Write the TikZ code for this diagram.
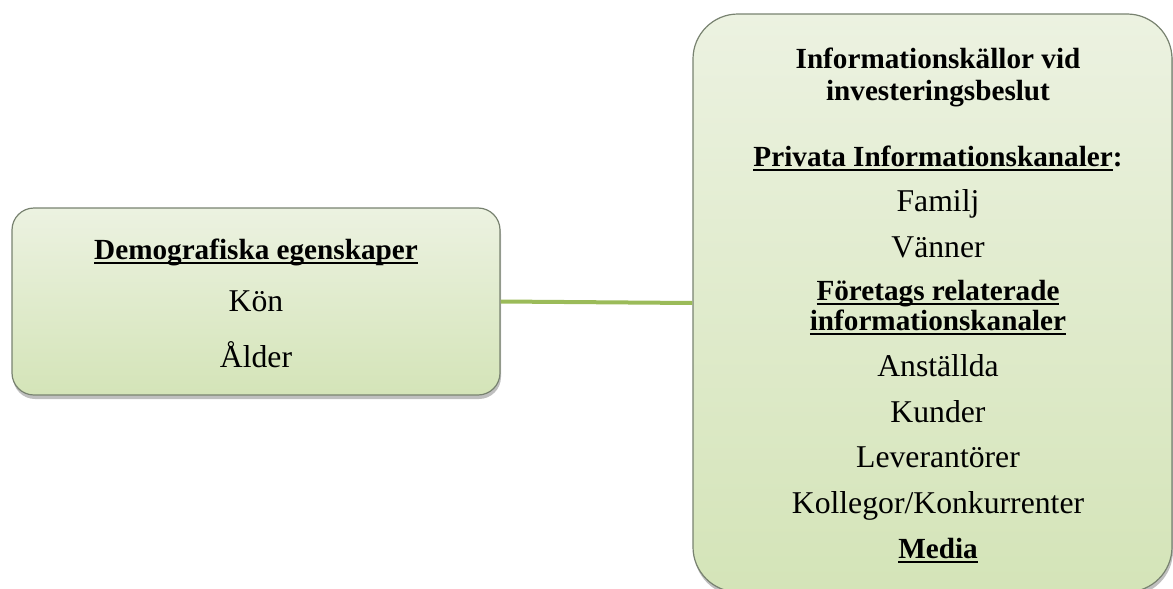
\documentclass[tikz,border=0pt]{standalone}
\usepackage{fontspec}
\setmainfont{Liberation Serif}
\newcommand{\ulin}[1]{\setbox0\hbox{#1}\rlap{\rule[-5pt]{\wd0}{1.8pt}}\box0}
\usetikzlibrary{shadows}
\definecolor{linegreen}{RGB}{155,187,89}
\definecolor{boxtop}{RGB}{236,242,225}
\definecolor{boxbot}{RGB}{212,228,184}
\definecolor{boxline}{RGB}{120,130,112}

\begin{document}
\begin{tikzpicture}[x=1pt, y=-1pt, font=\fontsize{31.7}{38}\selectfont]
    \tikzstyle{box}=[draw=boxline, line width=1.2pt, rectangle, top color=boxtop, bottom color=boxbot, drop shadow={shadow xshift=1pt, shadow yshift=-4pt, opacity=0.5}, inner sep=0pt]
    \tikzstyle{entry}=[anchor=base, inner sep=0pt]
    \tikzstyle{head}=[entry, font=\fontsize{29.2}{35}\selectfont\bfseries]

    \useasboundingbox (0,0) rectangle (1173,589);

    \node[box, rounded corners=22pt, minimum width=488pt, minimum height=187pt] (demo) at (256,301.5) {};
    \node[box, rounded corners=45pt, minimum width=479pt, minimum height=578pt] (info) at (932.5,303) {};

    \draw[linegreen, line width=4pt] (demo.east) -- (info.west);

    % left box
    \node[head] (demohead) at (256,259) {\ulin{Demografiska egenskaper}};
    \node[entry] (kon) at (256,311) {Kön};
    \node[entry] (alder) at (256,367) {Ålder};

    % right box
    \node[head] (title1) at (938,68) {Informationskällor vid};
    \node[head] (title2) at (938,100) {investeringsbeslut};
    \node[head] (priv) at (938,166) {\ulin{Privata Informationskanaler}:};
    \node[head] (foretag1) at (938,300) {\ulin{Företags relaterade}};
    \node[head] (foretag2) at (938,330) {\ulin{informationskanaler}};
    \node[head] (media) at (938,558) {\ulin{Media}};
    \foreach \y/\t in {211/Familj, 257/Vänner, 376/Anställda, 422/Kunder, 467/Leverantörer, 513/Kollegor\slash Konkurrenter}
        \node[entry] (e\y) at (938,\y) {\t};

\end{tikzpicture}
\end{document}
